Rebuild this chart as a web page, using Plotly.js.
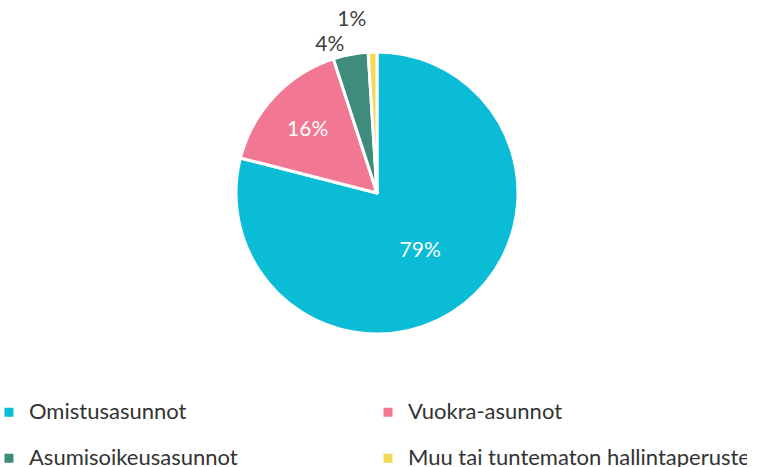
<!DOCTYPE html>
<html><head><meta charset="utf-8">
<script src="https://cdn.plot.ly/plotly-3.0.1.min.js"></script>
<style>html,body{margin:0;padding:0;background:#fff}#c{width:760px;height:467px}path.textline{stroke-opacity:0 !important}</style>
</head><body><div id="c"></div>
<script>
const labels = ["Omistusasunnot", "Vuokra-asunnot", "Asumisoikeusasunnot", "Muu tai tuntematon hallintaperuste"];
const values = [79, 16, 4, 1];
const colors = ["#0ABCD6", "#F27793", "#3F8C7C", "#F3D852"];
const textPos = ["inside", "inside", "outside", "outside"];

// label shown at full size; first legend row gets a trailing empty line so rows get the reference spacing
const legendLabels = labels.map((l, i) => '<span style="font-size:22px">' + l + '</span>' + (i < 2 ? '<br> ' : ''));

Plotly.newPlot("c", [{
  type: "pie",
  labels: legendLabels,
  values: values,
  sort: false,
  direction: "clockwise",
  rotation: 0,
  marker: {colors: colors, line: {color: "#fff", width: 3}},
  textinfo: "percent",
  texttemplate: "%{percent:.0%}",
  textposition: textPos,
  insidetextorientation: "horizontal",
  insidetextfont: {color: "#fff", size: 21, family: "Lato, sans-serif"},
  outsidetextfont: {color: "#404040", size: 21, family: "Lato, sans-serif"},
  domain: {x: [0.3105, 0.6816], y: [0.137, 0.8656]},
  hoverinfo: "percent"
}], {
  width: 760, height: 467,
  margin: {l: 0, r: 0, t: 0, b: 80, autoexpand: false},
  paper_bgcolor: "#fff",
  showlegend: true,
  legend: {
    orientation: "h", x: -0.0145, y: -0.0207, xanchor: "left", yanchor: "top",
    valign: "top",
    entrywidth: 334, entrywidthmode: "pixels",
    font: {size: 16.5, family: "Lato, sans-serif", color: "#333333"},
    itemwidth: 30
  }
}, {displayModeBar: false, staticPlot: true});
</script></body></html>
